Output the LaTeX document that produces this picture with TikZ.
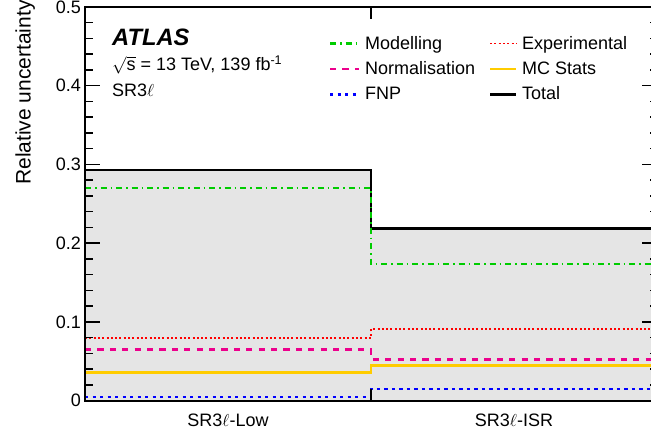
\documentclass[tikz,border=0pt]{standalone}
\usepackage{fontspec}
\setmainfont{Liberation Sans}
\definecolor{mgreen}{RGB}{0,204,0}
\definecolor{mgold}{RGB}{255,204,0}
\definecolor{mgray}{RGB}{229,229,229}
\tikzset{
  totall/.style={black, line width=2.7pt},
  modl/.style={mgreen, line width=2.3pt, dash pattern=on 6pt off 4pt on 1.5pt off 4pt},
  expl/.style={red, line width=1.8pt, dash pattern=on 2pt off 2.3pt},
  norml/.style={magenta, line width=2.7pt, dash pattern=on 6.2pt off 6.2pt},
  mcl/.style={mgold, line width=2.8pt},
  fnpl/.style={blue, line width=2.8pt, dash pattern=on 3.3pt off 4.2pt},
  axisl/.style={black, line width=1.8pt},
  tickl/.style={black, line width=1.5pt},
  txt/.style={inner sep=0pt, font=\fontsize{18}{20}\selectfont},
  ticklab/.style={txt, anchor=east},
  legtxt/.style={txt, anchor=base west},
}
\begin{document}
\begin{tikzpicture}[x=1pt, y=-1pt]
\useasboundingbox (0,0) rectangle (651,435);
\clip (0,0) rectangle (651,435);
\begin{scope}[shift={(0,400.7)}, yscale=-787.4]
  % uncertainty band
  \fill[mgray] (85,0) -- (85,0.293) -- (371,0.293) -- (371,0.219) -- (657,0.219) -- (657,0) -- cycle;
  % histograms
  \draw[totall] (85,0.293) -- (371,0.293) -- (371,0.219) -- (657,0.219);
  \draw[fnpl] (85,0.0047) -- (371,0.0047) -- (371,0.0149) -- (657,0.0149);
  \draw[mcl] (85,0.0356) -- (371,0.0356) -- (371,0.045) -- (657,0.045);
  \draw[norml] (85,0.065) -- (371,0.065) -- (371,0.0526) -- (657,0.0526);
  \draw[expl] (85,0.080) -- (371,0.080) -- (371,0.0907) -- (657,0.0907);
  \draw[modl] (85,0.270) -- (371,0.270) -- (371,0.1736) -- (657,0.1736);
  % y ticks
  \foreach \i in {0,...,25} {
    \pgfmathsetmacro\v{\i*0.02}
    \draw[tickl] (85,\v) -- ++(7.5,0);
    \draw[tickl] (657,\v) -- ++(-7.5,0);
  }
  \foreach \v in {0,0.1,0.2,0.3,0.4,0.5} {
    \draw[tickl] (85,\v) -- ++(15,0);
    \draw[tickl] (657,\v) -- ++(-15,0);
  }
  \node[ticklab] (l0) at (81,0) {0};
  \node[ticklab] (l1) at (81,0.1) {0.1};
  \node[ticklab] (l2) at (81,0.2) {0.2};
  \node[ticklab] (l3) at (81,0.3) {0.3};
  \node[ticklab] (l4) at (81,0.4) {0.4};
  \node[ticklab] (l5) at (81,0.5) {0.5};
\end{scope}
% x ticks
\draw[tickl] (371,400.7) -- (371,388.7);
\draw[tickl] (371,7) -- (371,19);
% frame
\draw[axisl] (85,7) rectangle (657,400.7);
% axis title
\node[inner sep=0pt, anchor=base west, rotate=90, font=\fontsize{21}{23}\selectfont] (ytitle) at (30.7,185) {Relative uncertainty};
% x labels
\node[txt, anchor=base] (xlow) at (228,427) {SR3$\ell$-Low};
\node[txt, anchor=base] (xisr) at (514,427) {SR3$\ell$-ISR};
% ATLAS labels
\node[inner sep=0pt, anchor=base west, font=\fontsize{23.7}{26}\selectfont\bfseries\itshape] (atlas) at (112,46) {ATLAS};
\node[legtxt] (energy) at (112,71) {$\sqrt{\mbox{s}}$ = 13 TeV, 139 fb\textsuperscript{-1}};
\node[legtxt] (region) at (112,97) {SR3$\ell$};
% legend
\draw[modl] (330,43.5) -- (359,43.5);
\node[legtxt] (lmod) at (365,49.3) {Modelling};
\draw[norml] (330,69) -- (359,69);
\node[legtxt] (lnorm) at (365,74.3) {Normalisation};
\draw[fnpl] (330,94.3) -- (359,94.3);
\node[legtxt] (lfnp) at (365,99.3) {FNP};
\draw[expl] (490,43.5) -- (516,43.5);
\node[legtxt] (lexp) at (522,49.3) {Experimental};
\draw[mcl] (490,69) -- (516,69);
\node[legtxt] (lmc) at (522,74.3) {MC Stats};
\draw[totall] (490,94.3) -- (516,94.3);
\node[legtxt] (ltot) at (522,99.3) {Total};
\end{tikzpicture}
\end{document}
